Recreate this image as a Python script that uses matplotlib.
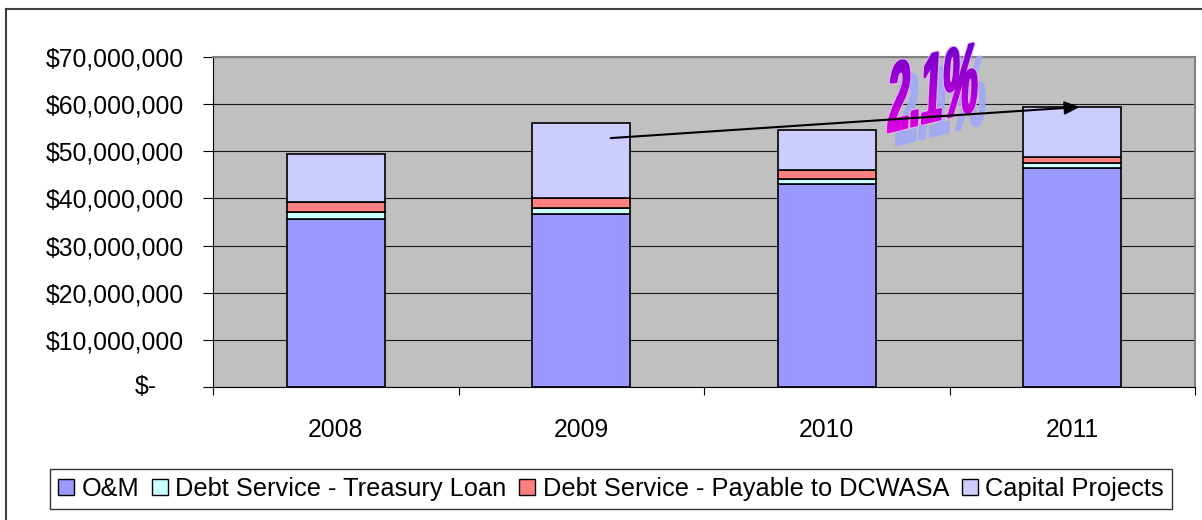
import numpy as np
import matplotlib
matplotlib.use("Agg")
import matplotlib.pyplot as plt
from matplotlib.textpath import TextPath
from matplotlib.font_manager import FontProperties
from matplotlib.patches import PathPatch, Patch, Rectangle
from matplotlib.transforms import Affine2D, ScaledTranslation
from matplotlib.ticker import FuncFormatter
from matplotlib.lines import Line2D
from matplotlib.colors import LinearSegmentedColormap

plt.rcParams['font.family'] = ['Liberation Sans', 'DejaVu Sans']

# data (dollars)
years = ['2008', '2009', '2010', '2011']
om = np.array([35.6, 36.6, 43.05, 46.4]) * 1e6
treasury = np.array([1.45, 1.3, 1.05, 1.1]) * 1e6
dcwasa = np.array([2.25, 2.25, 1.9, 1.2]) * 1e6
capital = np.array([10.1, 15.85, 8.5, 10.6]) * 1e6
series_names = ['O&M', 'Debt Service - Treasury Loan',
                'Debt Service - Payable to DCWASA', 'Capital Projects']
series_colors = ['#9999FF', '#CCFFFF', '#FF8080', '#CCCCFF']
yticks = np.arange(0, 70e6 + 1, 10e6)
growth_label = '2.1%'
arrow_from = (1.12, 52.8e6)
arrow_to = (3.03, 59.4e6)

W, H = 1202, 520
fig = plt.figure(figsize=(W / 100, H / 100), dpi=100)
ax = fig.add_axes([213 / W, 1 - 387 / H, (1195 - 213) / W, (387 - 57) / H])
ax.set_facecolor('#C0C0C0')

x = np.arange(len(years))
bottom = np.zeros(len(years))
for vals, col in zip([om, treasury, dcwasa, capital], series_colors):
    ax.bar(x, vals, 0.4, bottom=bottom, color=col, edgecolor='black',
           linewidth=1.2, zorder=3)
    bottom += vals

ax.set_xlim(-0.5, len(years) - 0.5)
ax.set_ylim(0, 70e6)
ax.set_yticks(yticks)
ax.yaxis.grid(True, color='#1a1a1a', linewidth=0.8, zorder=1)
ax.set_axisbelow(True)

def money(v, pos):
    if v == 0:
        return ''   # drawn separately, accounting style
    return '${:,.0f}'.format(v)

ax.yaxis.set_major_formatter(FuncFormatter(money))
ax.tick_params(axis='y', direction='out', length=7, width=0.8,
               labelsize=17.8, pad=14)
ax.text(0, yticks[0], '$-', fontsize=17.8, ha='right', va='center',
        transform=ax.get_yaxis_transform() +
        ScaledTranslation(-0.56, 0, fig.dpi_scale_trans))

# x ticks at category boundaries, labels at centres
ax.set_xticks(np.arange(-0.5, len(years), 1.0))
ax.set_xticklabels([])
ax.set_xticks(x, minor=True)
ax.set_xticklabels(years, minor=True)
ax.tick_params(axis='x', which='major', direction='out', length=6, width=0.8)
ax.tick_params(axis='x', which='minor', length=0, labelsize=17.8, pad=22)

for s in ['top', 'right']:
    ax.spines[s].set_color('#808080')
    ax.spines[s].set_linewidth(1.5)
for s in ['left', 'bottom']:
    ax.spines[s].set_color('black')
    ax.spines[s].set_linewidth(0.8)

# legend
handles = [Patch(facecolor=c, edgecolor='black', linewidth=1) for c in series_colors]
leg = fig.legend(handles, series_names, loc='center',
                 bbox_to_anchor=((49 + 1173) / 2 / W, 1 - 489 / H),
                 ncol=4, fontsize=18.3, frameon=True, fancybox=False,
                 handlelength=0.62, handleheight=0.62, handletextpad=0.3,
                 columnspacing=0.5, borderpad=0.32, borderaxespad=0)
leg.get_frame().set_edgecolor('black')
leg.get_frame().set_linewidth(1)

# outer chart frame
fig.add_artist(Line2D([6 / W, 6 / W], [0, 1 - 9 / H], color='#404040', lw=1.5))
fig.add_artist(Line2D([6 / W, 1], [1 - 9 / H, 1 - 9 / H], color='#404040', lw=1.5))

# word-art style growth label, on an overlay in pixel units
ov = fig.add_axes([0, 0, 1, 1], zorder=10)
ov.axis('off')
ov.patch.set_alpha(0)

fp = FontProperties(family=['Liberation Sans', 'DejaVu Sans'], weight='bold')
tp = TextPath((0, 0), growth_label, size=100, prop=fp)
bb = tp.get_extents()
tr = (Affine2D().translate(-bb.x0, -bb.y0)
      .scale(90 / bb.width, 67 / bb.height)
      .skew_deg(17, 0)
      .rotate_deg(14)
      .translate(888, H - 133))
path = tr.transform_path(tp)

shadow = PathPatch(path, facecolor='#A0A8F8', edgecolor='#A0A8F8', lw=1.8,
                   alpha=0.85, joinstyle='round',
                   transform=Affine2D().translate(8, -13) + ov.transData)
ov.add_patch(shadow)

# light rim
ov.add_patch(PathPatch(path, facecolor='#E8B0FF', edgecolor='#E8B0FF', lw=3.0,
                       joinstyle='round'))
# vertical gradient purple (top) to magenta (bottom), drawn in bands
pb = path.get_extents()
cmap = LinearSegmentedColormap.from_list('wa', ['#E000E0', '#6A00C8'])
nb = 40
y0, y1 = pb.y0 - 4, pb.y1 + 4
dh = (y1 - y0) / nb
for i in range(nb):
    c = cmap((i + 0.5) / nb)
    band = Rectangle((pb.x0 - 6, y0 + i * dh), pb.width + 12, dh * 1.05,
                     transform=ov.transData)
    p = PathPatch(path, facecolor=c, edgecolor=c, lw=1.6, joinstyle='round')
    ov.add_patch(p)
    p.set_clip_path(band)
ov.set_xlim(0, W)
ov.set_ylim(0, H)

# arrow drawn over the word art, positioned in the bar axes' data units
ov.annotate('', xy=arrow_to, xycoords=ax.transData,
            xytext=arrow_from, textcoords=ax.transData,
            arrowprops=dict(arrowstyle='-|>,head_length=0.9,head_width=0.4',
                            color='black', lw=1.5, shrinkA=0, shrinkB=0),
            zorder=20)

fig.savefig('out.png', dpi=100)
